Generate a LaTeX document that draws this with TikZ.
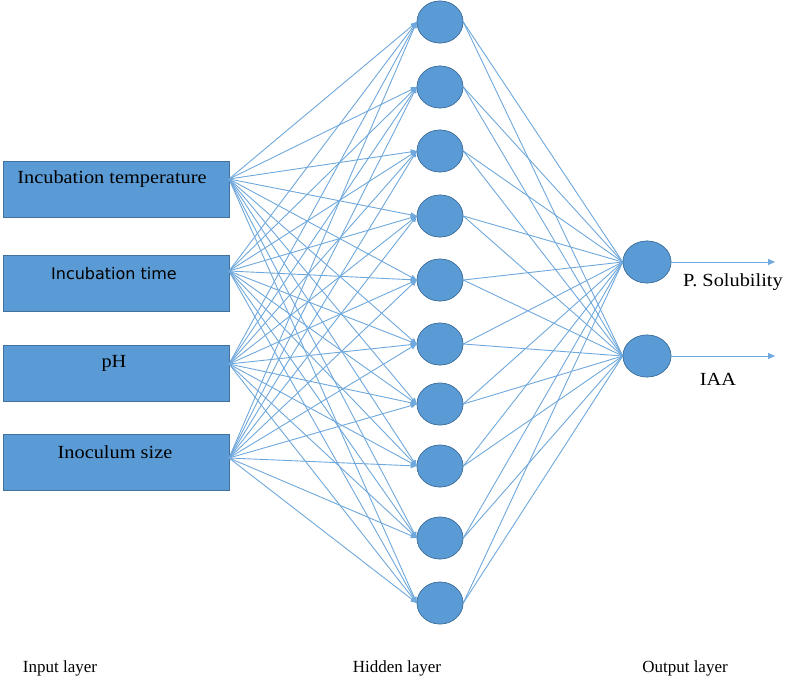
\documentclass[tikz,border=0pt]{standalone}
\usepackage{fontspec}
\setmainfont{Liberation Serif}
\newfontfamily\boxserif[FakeStretch=1.1]{Liberation Serif}
\newfontfamily\boxsans{DejaVu Sans}
\usetikzlibrary{arrows.meta,shapes.geometric}
\definecolor{nnfill}{HTML}{5B9BD5}
\definecolor{nnedge}{HTML}{41719C}
\definecolor{nnline}{HTML}{6FA8DC}
\tikzset{
  inbox/.style={draw=nnedge, fill=nnfill, line width=0.8pt, minimum width=226pt, minimum height=56pt, inner sep=0pt},
  hid/.style={draw=nnedge, fill=nnfill, line width=0.6pt, ellipse, minimum width=46pt, minimum height=42pt, inner sep=0pt},
  outn/.style={draw=nnedge, fill=nnfill, line width=0.6pt, ellipse, minimum width=48pt, minimum height=42pt, inner sep=0pt},
  conn/.style={draw=nnline, line width=0.9pt},
  tip/.style={conn, -{Triangle[length=6pt,width=5pt]}},
  boxtxt/.style={font=\boxserif\fontsize{18.5}{20}\selectfont, text=black, inner sep=0pt},
  sanstxt/.style={font=\boxsans\fontsize{16}{18}\selectfont, text=black, inner sep=0pt},
  laytxt/.style={font=\fontsize{17}{19}\selectfont, inner sep=0pt}
}
\begin{document}
\begin{tikzpicture}[x=1pt,y=-1pt]
\useasboundingbox (0,0) rectangle (788,681);
% input boxes
\node[inbox] (b1) at (116,189) {};
\node[inbox] (b2) at (116,283) {};
\node[inbox] (b3) at (116,373) {};
\node[inbox] (b4) at (116,462) {};
\node[boxtxt] (t1) at (112,179) {Incubation temperature};
\node[sanstxt] (t2) at (114,274) {Incubation time};
\node[boxtxt] (t3) at (114,363) {pH};
\node[boxtxt] (t4) at (115,452) {Inoculum size};
\coordinate (s1) at (229,179);
\coordinate (s2) at (229,271);
\coordinate (s3) at (229,364);
\coordinate (s4) at (229,458);
% hidden nodes
\foreach \i/\y in {1/22,2/87,3/151,4/216,5/280,6/344,7/404,8/466,9/538,10/603}{
  \node[hid] (h\i) at (440,\y) {};
}
% output nodes
\node[outn] (o1) at (647,262) {};
\node[outn] (o2) at (647,356) {};
% connectors input -> hidden
\foreach \s in {1,2,3,4}{
  \foreach \h in {1,...,10}{
    \draw[tip] (s\s) -- (h\h.west);
  }
}
% hidden -> output
\foreach \h in {1,...,10}{
  \draw[conn] (h\h.east) -- (o1.west);
  \draw[conn] (h\h.east) -- (o2.west);
}
% redraw nodes on top
\foreach \i/\y in {1/22,2/87,3/151,4/216,5/280,6/344,7/404,8/466,9/538,10/603}{
  \node[hid] at (440,\y) {};
}
\node[outn] at (647,262) {};
\node[outn] at (647,356) {};
% outputs
\coordinate (e1) at (775,262);
\coordinate (e2) at (775,356);
\draw[conn, -{Triangle[length=7pt,width=6pt]}] (o1.east) -- (e1);
\draw[conn, -{Triangle[length=7pt,width=6pt]}] (o2.east) -- (e2);
\node[boxtxt] (l1) at (733,282) {P. Solubility};
\node[boxtxt] (l2) at (718,379) {IAA};
% layer labels
\node[laytxt] (L1) at (60,668) {Input layer};
\node[laytxt] (L2) at (397,668) {Hidden layer};
\node[laytxt] (L3) at (685,668) {Output layer};
\end{tikzpicture}
\end{document}
